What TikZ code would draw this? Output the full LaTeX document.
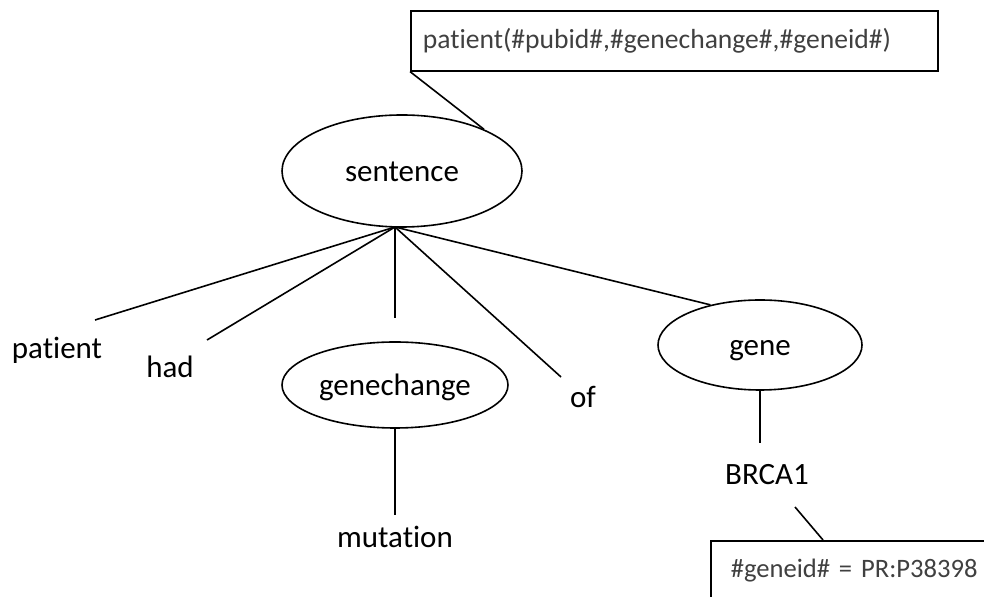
\documentclass[tikz,border=0pt]{standalone}
\usepackage{fontspec}
\setmainfont[Ligatures={NoCommon}]{Carlito}
\usetikzlibrary{shapes.geometric}
\begin{document}
\begin{tikzpicture}[x=0.5pt,y=-0.5pt,
  line width=0.8pt,
  oval/.style={draw, ellipse, inner sep=0pt, text height=11pt, text depth=0pt,
    font=\fontsize{15.5}{18}\selectfont},
  word/.style={font=\fontsize{15.5}{18}\selectfont, inner sep=0pt},
  note/.style={draw, rectangle, anchor=north west, align=left, inner ysep=0pt,
    text=black!75},
]
\useasboundingbox (0,0) rectangle (984,597);
\clip (0,0) rectangle (984,597);
% annotation boxes
\node[note, inner xsep=6pt, text width=251.5pt, minimum height=30pt,
  font=\fontsize{13.8}{16}\selectfont] (top) at (410,10)
  {patient(\#pubid\#,\#genechange\#,\#geneid\#)};
\node[note, inner xsep=10pt, text width=160pt, minimum height=30pt,
  font=\fontsize{13.3}{16}\selectfont] (idbox) at (710,540)
  {\#geneid\# = PR:P38398};
% ellipses
\node[oval, minimum width=120pt, minimum height=56pt] (sentence) at (402,171) {sentence};
\node[oval, minimum width=113pt, minimum height=43pt] (gc) at (395,385) {genechange};
\node[oval, minimum width=102pt, minimum height=45pt] (gene) at (760,345) {gene};
% words
\node[word] (patient) at (57,350) {patient};
\node[word] (had) at (170,367) {had};
\node[word] (of) at (583,397) {of};
\node[word] (mutation) at (395,537) {mutation};
\node[word] (brca) at (767,475) {BRCA1};
% free ends
\coordinate (hub) at (395,227);
\coordinate (pe) at (95,320);
\coordinate (he) at (207,340);
\coordinate (ve) at (395,318);
\coordinate (oe) at (561,377);
\coordinate (me) at (395,515);
\coordinate (be) at (760,443);
\coordinate (bs) at (795,507);
\coordinate (bt) at (823,540);
% connectors
\draw (top.south west) -- (sentence.27);
\draw (hub) -- (pe);
\draw (hub) -- (he);
\draw (hub) -- (ve);
\draw (hub) -- (oe);
\draw (hub) -- (gene.141);
\draw (gc.south) -- (me);
\draw (gene.south) -- (be);
\draw (bs) -- (bt);
\end{tikzpicture}
\end{document}
